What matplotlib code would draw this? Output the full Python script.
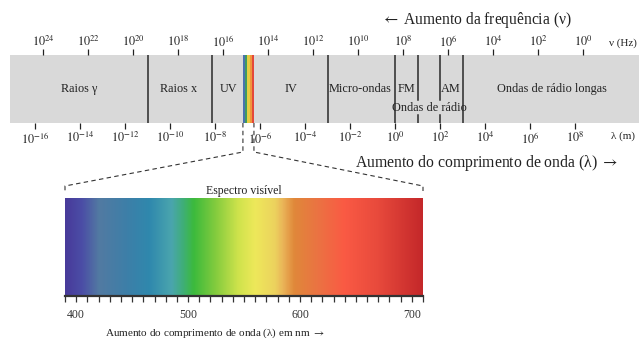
import numpy as np
import matplotlib
matplotlib.use("Agg")
import matplotlib.pyplot as plt
from matplotlib.colors import LinearSegmentedColormap
from matplotlib.lines import Line2D
from matplotlib.transforms import blended_transform_factory

plt.rcParams["font.family"] = ["Liberation Serif", "DejaVu Serif"]
plt.rcParams["mathtext.fontset"] = "stix"

# --- data ---
# wavelength decades (log10 of metres) on the band
lam_ticks = [-16, -14, -12, -10, -8, -6, -4, -2, 0, 2, 4, 6, 8]
freq_ticks = [24, 22, 20, 18, 16, 14, 12, 10, 8, 6, 4, 2, 0]
freq_offset = 8.36  # log10(c) as drawn in the picture

full_bounds = [-11, -8.15, -3, 0, 3]   # full-height separators
part_bounds = [1, 2]                   # FM / AM separators, broken by "Ondas de radio"
vis_band = (-6.76, -6.27)
vis_band_colors = ["#4a72b0", "#3f9a62", "#e6cc42", "#f0963c", "#e4483a"]

region_names = ["Raios γ", "Raios x", "UV", "IV", "Micro-ondas", "FM", "AM", "Ondas de rádio longas"]
region_pos = [-14.04, -9.6, -7.38, -4.62, -1.56, 0.49, 2.49, 6.98]

# visible spectrum
spec_range = (390, 710)
spec_nm = [390, 405, 420, 445, 465, 485, 495, 505, 525, 545, 560, 578, 585, 595, 615, 640, 670, 710]
spec_colors = ["#483a9a", "#4b4ea6", "#527aa2", "#3d7fa8", "#2f88ad", "#4aa5ae", "#3fae7a",
               "#3cba3c", "#85cc3e", "#cfe34c", "#eee85a", "#ecd25e", "#eab458", "#e0883a",
               "#ea7442", "#fa5a44", "#e84a3c", "#c4282a"]
spec_labels = [400, 500, 600, 700]

fig = plt.figure(figsize=(6.39, 3.38), dpi=100)
W, H = 639, 338
txt = "#222222"

# --- electromagnetic band ---
ax = fig.add_axes([10 / W, 1 - 123 / H, 629 / W, 68 / H])
ax.set_facecolor("#d9d9d9")
ax.set_xlim(-17.11, 10.84)
ax.set_ylim(0, 1)
for s in ax.spines.values():
    s.set_visible(False)
ax.set_yticks([])
ax.set_xticks(lam_ticks)
ax.set_xticklabels([f"$10^{{{t}}}$" for t in lam_ticks], fontsize=8.8)
ax.tick_params(axis="x", direction="out", length=4, width=0.9, pad=1.5, colors=txt)

sec = ax.secondary_xaxis("top", functions=(lambda x: freq_offset - x, lambda x: freq_offset - x))
sec.set_xticks(freq_ticks)
sec.set_xticklabels([f"$10^{{{t}}}$" for t in freq_ticks], fontsize=8.8)
sec.tick_params(axis="x", direction="out", length=4, width=0.9, pad=0, colors=txt)
for s in sec.spines.values():
    s.set_visible(False)

for b in full_bounds:
    ax.axvline(b, color="#2a2a2a", lw=1.1)
for b in part_bounds:
    ax.axvline(b, ymin=0.34, ymax=1, color="#2a2a2a", lw=1.1)
    ax.axvline(b, ymin=0, ymax=0.12, color="#2a2a2a", lw=1.1)

edges = np.linspace(vis_band[0], vis_band[1], len(vis_band_colors) + 1)
for i, c in enumerate(vis_band_colors):
    ax.axvspan(edges[i], edges[i + 1], color=c, lw=0)

for name, x in zip(region_names, region_pos):
    ax.text(x, 0.5, name, ha="center", va="center", fontsize=8.8, color=txt)
ax.text(1.51, 0.22, "Ondas de rádio", ha="center", va="center", fontsize=8.8, color=txt)

trans = blended_transform_factory(ax.transData, ax.transAxes)
ax.annotate("ν (Hz)", xy=(10.13, 1), xycoords=trans, xytext=(0, 8.5), textcoords="offset points",
            ha="center", va="center", fontsize=8, color=txt, annotation_clip=False)
ax.annotate("λ (m)", xy=(10.13, 0), xycoords=trans, xytext=(0, -9.5), textcoords="offset points",
            ha="center", va="center", fontsize=8, color=txt, annotation_clip=False)

fig.text(476 / W, 1 - 20 / H, r"$\leftarrow$ Aumento da frequência (ν)", ha="center", va="center",
         fontsize=11.2, color=txt)
fig.text(487 / W, 1 - 163 / H, r"Aumento do comprimento de onda (λ) $\rightarrow$", ha="center",
         va="center", fontsize=11.3, color=txt)

# --- visible spectrum ---
ax2 = fig.add_axes([65 / W, 1 - 296 / H, 358 / W, 98 / H])
cmap = LinearSegmentedColormap.from_list(
    "vis", [((n - spec_range[0]) / (spec_range[1] - spec_range[0]), c) for n, c in zip(spec_nm, spec_colors)])
grad = np.linspace(0, 1, 512)[None, :]
ax2.imshow(grad, aspect="auto", cmap=cmap, extent=(spec_range[0], spec_range[1], 0, 1))
ax2.set_xlim(*spec_range)
ax2.set_ylim(0, 1)
for k in ["top", "left", "right"]:
    ax2.spines[k].set_visible(False)
ax2.spines["bottom"].set_linewidth(1.6)
ax2.spines["bottom"].set_color("#333333")
ax2.set_yticks([])
ax2.set_xticks(spec_labels)
ax2.set_xticklabels([str(v) for v in spec_labels], fontsize=8.5)
ax2.set_xticks(np.arange(spec_range[0], spec_range[1] + 1, 10), minor=True)
ax2.tick_params(axis="x", which="both", direction="out", length=4.5, width=0.9, colors="#333333", pad=5)
ax2.set_title("Espectro visível", fontsize=8.5, pad=3, color=txt)
ax2.set_xlabel(r"Aumento do comprimento de onda (λ) em nm $\rightarrow$", fontsize=8, color=txt,
               va="center")
ax2.xaxis.set_label_coords(0.42, -0.375)

# --- dashed connectors (from band edges to spectrum edges) ---
fig.canvas.draw()
inv = fig.transFigure.inverted()


def to_fig(axis, x, y):
    return inv.transform(axis.transData.transform((x, y)))


for xb, xs in [(vis_band[0], spec_range[0]), (vis_band[1], spec_range[1])]:
    p0 = to_fig(ax, xb, 0)
    p3 = to_fig(ax2, xs, 1)
    ys = [p0[1], 1 - 152 / H, 1 - 186 / H, 1 - 191 / H]
    xs_ = [p0[0], p0[0], p3[0], p3[0]]
    fig.add_artist(Line2D(xs_, ys, transform=fig.transFigure, color="#333333", lw=0.8,
                          ls=(0, (4, 3))))

fig.savefig("out.png", dpi=100)
